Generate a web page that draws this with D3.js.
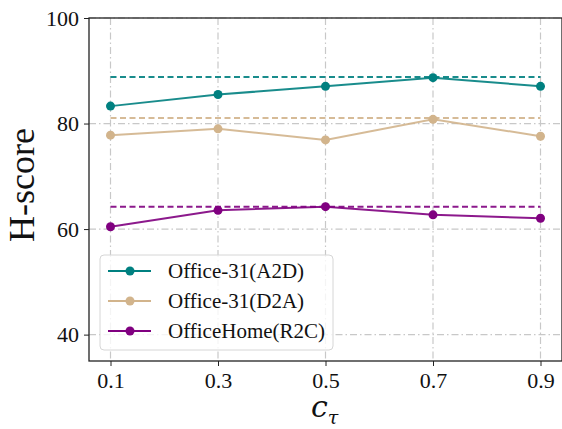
<!DOCTYPE html>
<html>
<head>
<meta charset="utf-8">
<script src="https://cdn.jsdelivr.net/npm/d3@7"></script>
<style>
  body { margin: 0; background: #fff; }
  svg { display: block; font-family: "Liberation Serif", "DejaVu Serif", serif; }
</style>
</head>
<body>
<svg id="chart"></svg>
<script>
const xValues = [0.1, 0.3, 0.5, 0.7, 0.9];
const xTicks = ['0.1', '0.3', '0.5', '0.7', '0.9'];
const yTicks = [40, 60, 80, 100];

const seriesNames = ['Office-31(A2D)', 'Office-31(D2A)', 'OfficeHome(R2C)'];
const seriesColors = ['#008080', '#d2b48c', '#800080'];
const a2d = [83.3, 85.5, 87.05, 88.7, 87.05];
const d2a = [77.8, 79.0, 76.9, 80.8, 77.6];
const r2c = [60.45, 63.55, 64.25, 62.7, 62.05];
const baselines = [88.8, 81.05, 64.25];

const w = 562, h = 429;
const plotLeft = 89, plotRight = 562, plotTop = 18, plotBottom = 361;

const svg = d3.select('#chart').attr('width', w).attr('height', h);

const xScale = d3.scaleLinear().domain([0.06, 0.94]).range([plotLeft, plotRight]);
const yScale = d3.scaleLinear().domain([35, 100]).range([plotBottom, plotTop]);

// grid
svg.append('g')
  .selectAll('line')
  .data(xValues)
  .enter()
  .append('line')
  .attr('x1', d => xScale(d)).attr('x2', d => xScale(d))
  .attr('y1', plotTop).attr('y2', plotBottom)
  .attr('stroke', '#c8c8c8').attr('stroke-width', 1.2)
  .attr('stroke-dasharray', '7,3,1.5,3');

svg.append('g')
  .selectAll('line')
  .data(yTicks)
  .enter()
  .append('line')
  .attr('x1', plotLeft).attr('x2', plotRight)
  .attr('y1', d => yScale(d)).attr('y2', d => yScale(d))
  .attr('stroke', '#c8c8c8').attr('stroke-width', 1.2)
  .attr('stroke-dasharray', '7,3,1.5,3');

const allSeries = [a2d, d2a, r2c];

// dashed reference lines
allSeries.forEach((s, i) => {
  svg.append('line')
    .attr('x1', xScale(xValues[0])).attr('x2', xScale(xValues[xValues.length - 1]))
    .attr('y1', yScale(baselines[i])).attr('y2', yScale(baselines[i]))
    .attr('stroke', seriesColors[i]).attr('stroke-width', 2)
    .attr('stroke-opacity', 0.9)
    .attr('stroke-dasharray', '6,3.5');
});

const line = d3.line()
  .x((d, i) => xScale(xValues[i]))
  .y(d => yScale(d));

allSeries.forEach((s, i) => {
  svg.append('path')
    .datum(s)
    .attr('d', line)
    .attr('fill', 'none')
    .attr('stroke', seriesColors[i])
    .attr('stroke-width', 2)
    .attr('stroke-opacity', 0.9);

  svg.append('g')
    .selectAll('circle')
    .data(s)
    .enter()
    .append('circle')
    .attr('cx', (d, j) => xScale(xValues[j]))
    .attr('cy', d => yScale(d))
    .attr('r', 4.5)
    .attr('fill', seriesColors[i]);
});

// axes
const xAxis = d3.axisBottom(xScale).tickValues(xValues).tickFormat((d, i) => xTicks[i]).tickSize(5).tickPadding(6);
const yAxis = d3.axisLeft(yScale).tickValues(yTicks).tickSize(5).tickPadding(5);

const gx = svg.append('g')
  .attr('transform', 'translate(0,' + plotBottom + ')')
  .call(xAxis);
const gy = svg.append('g')
  .attr('transform', 'translate(' + plotLeft + ',0)')
  .call(yAxis);

[gx, gy].forEach(g => {
  g.select('.domain').remove();
  g.selectAll('line').attr('stroke', '#222').attr('stroke-width', 1);
  g.selectAll('text')
    .attr('fill', '#111')
    .style('font-family', '"Liberation Serif", serif')
    .style('font-size', '22px');
});

// spines
svg.append('rect')
  .attr('x', plotLeft).attr('y', plotTop)
  .attr('width', plotRight - plotLeft).attr('height', plotBottom - plotTop)
  .attr('fill', 'none').attr('stroke', '#222').attr('stroke-width', 1.3);

// legend
const legend = svg.append('g');
legend.append('rect')
  .attr('x', 100).attr('y', 255)
  .attr('width', 233).attr('height', 95)
  .attr('rx', 4)
  .attr('fill', 'rgba(255,255,255,0.8)')
  .attr('stroke', '#d6d6d6').attr('stroke-width', 1);

seriesNames.forEach((name, i) => {
  const y = 271 + i * 30;
  legend.append('line')
    .attr('x1', 108).attr('x2', 151)
    .attr('y1', y).attr('y2', y)
    .attr('stroke', seriesColors[i]).attr('stroke-width', 2);
  legend.append('circle')
    .attr('cx', 130).attr('cy', y).attr('r', 4.5)
    .attr('fill', seriesColors[i]);
  legend.append('text')
    .attr('x', 168).attr('y', y + 7)
    .attr('fill', '#111')
    .style('font-size', '21px')
    .text(name);
});

// axis labels
svg.append('text')
  .attr('transform', 'translate(34,185) rotate(-90)')
  .attr('text-anchor', 'middle')
  .attr('fill', '#111')
  .style('font-size', '36px')
  .text('H-score');

const xl = svg.append('text')
  .attr('x', 311).attr('y', 417)
  .attr('fill', '#111')
  .style('font-family', '"DejaVu Serif", serif')
  .style('font-style', 'italic')
  .style('font-size', '30px');
xl.append('tspan').text('c');
xl.append('tspan').attr('dy', 7).style('font-size', '19px').text('τ');
</script>
</body>
</html>
